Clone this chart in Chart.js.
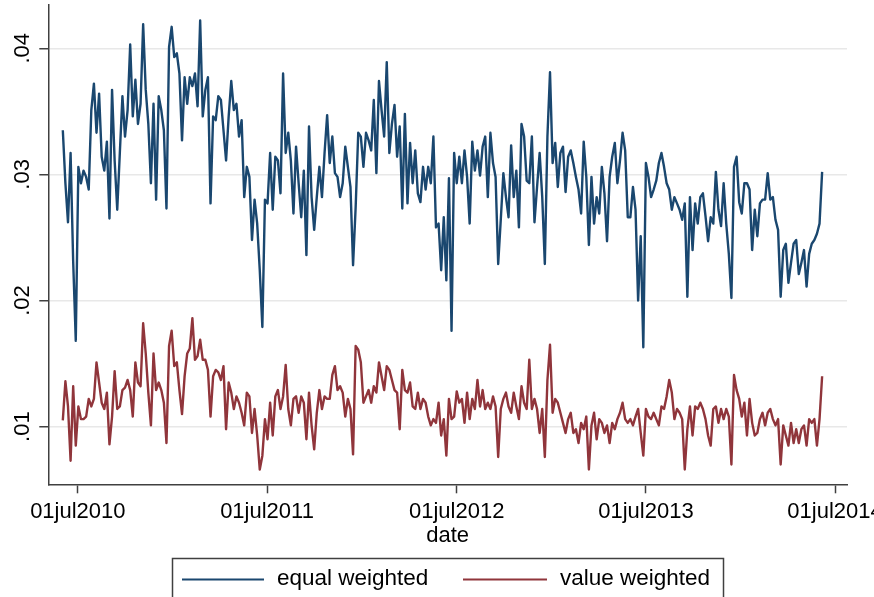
<!DOCTYPE html>
<html>
<head>
<meta charset="utf-8">
<script src="https://cdn.jsdelivr.net/npm/chart.js@4.4.1/dist/chart.umd.min.js"></script>
<style>
  html, body { margin: 0; padding: 0; background: #fff; }
</style>
</head>
<body>
<canvas id="myChart" width="874" height="597"></canvas>
<script>
// one reading every 5 calendar days, starting on startDate
var startDate = '2010-06-02';
var stepDays = 5;

var equalWeighted = [
  .0335,.0293,.0262,.0317,.0231,.0168,.0306,.0293,.0303,.0298,
  .0288,.0351,.0372,.0333,.0364,.0314,.0303,.0326,.0265,.0367,
  .0311,.0272,.0317,.0362,.0330,.0351,.0403,.0346,.0375,.0340,
  .0356,.0419,.0367,.0340,.0293,.0356,.0280,.0362,.0351,.0335,
  .0273,.0401,.0417,.0393,.0396,.0380,.0327,.0377,.0356,.0377,
  .0370,.0380,.0354,.0422,.0346,.0367,.0377,.0277,.0346,
  .0343,.0362,.0359,.0335,.0311,.0346,.0374,.0351,.0356,.0330,
  .0343,.0282,.0306,.0298,.0248,.0280,.0261,.0224,.0179,.0280,
  .0277,.0317,.0272,.0314,.0311,.0285,.0380,.0317,.0333,.0311,
  .0269,.0322,.0293,.0266,.0303,.0236,.0338,.0282,.0256,.0282,
  .0306,.0282,.0317,.0347,.0309,.0330,.0301,.0298,.0282,.0293,
  .0322,.0306,.0290,.0228,.0274,.0333,.0330,.0306,.0333,.0327,
  .0319,.0359,.0301,.0374,.0351,.0330,.0389,.0317,.0340,.0355,
  .0314,.0338,.0273,.0348,.0277,.0325,.0293,.0319,.0285,.0278,
  .0306,.0288,.0306,.0293,.0330,.0258,.0261,.0224,.0266,.0216,
  .0297,.0176,.0317,.0293,.0314,.0293,.0319,.0298,.0261,.0326,
  .0303,.0319,.0299,.0322,.0330,.0282,.0333,.0309,.0298,.0229,
  .0264,.0301,.0282,.0266,.0323,.0282,.0303,.0258,.0340,.0330,
  .0295,.0293,.0330,.0262,.0290,.0317,.0282,.0229,.0330,.0381,
  .0309,.0325,.0290,.0317,.0322,.0286,.0314,.0319,.0309,.0298,
  .0288,.0269,.0326,.0298,.0244,.0298,.0261,.0282,.0269,.0306,
  .0285,.0247,.0298,.0314,.0325,.0293,.0311,.0333,.0319,.0266,
  .0266,.0290,.0272,.0200,.0251,.0163,.0309,.0298,.0282,.0288,
  .0295,.0309,.0317,.0306,.0293,.0288,.0272,.0282,.0277,
  .0272,.0264,.0277,.0203,.0282,.0240,.0277,.0261,.0282,.0285,
  .0267,.0247,.0266,.0261,.0302,.0272,.0259,.0293,.0261,.0237,
  .0202,.0306,.0314,.0278,.0269,.0293,.0293,.0288,.0240,.0272,
  .0251,.0277,.0280,.0280,.0301,.0280,.0282,.0264,.0256,.0203,
  .0240,.0245,.0214,.0230,.0245,.0248,.0221,.0230,.0240,.0211,
  .0237,.0245,.0248,.0253,.0261,.0302
];

var valueWeighted = [
  .0105,.0136,.0116,.0073,.0132,.0085,.0116,.0106,.0106,.0108,
  .0122,.0116,.0122,.0151,.0135,.0119,.0114,.0127,.0086,.0108,
  .0144,.0114,.0116,.0129,.0131,.0137,.0129,.0108,.0151,.0135,
  .0132,.0182,.0158,.0127,.0101,.0158,.0129,.0135,.0129,.0119,
  .0087,.0164,.0176,.0148,.0151,.0129,.0110,.0140,.0158,.0162,
  .0186,.0153,.0156,.0169,.0153,.0153,.0145,.0108,.0140,.0145,
  .0143,.0137,.0148,.0098,.0135,.0127,.0114,.0124,.0119,.0111,
  .0101,.0127,.0124,.0095,
  .0114,.0093,.0066,.0077,.0106,.0090,.0119,.0093,.0124,.0129,
  .0114,.0124,.0149,.0114,.0101,.0122,.0124,.0111,.0124,.0119,
  .0090,.0127,.0101,.0082,.0111,.0129,.0114,.0124,.0122,.0122,
  .0141,.0148,.0129,.0132,.0127,.0108,.0122,.0114,.0078,.0164,
  .0161,.0151,.0119,.0124,.0129,.0119,.0132,.0127,.0151,.0140,
  .0129,.0148,.0145,.0137,.0129,.0127,.0098,.0145,.0129,.0127,
  .0135,.0116,.0114,.0127,.0114,.0122,.0119,.0108,.0101,.0106,
  .0103,.0119,.0093,.0106,.0077,.0122,
  .0106,.0108,.0128,.0119,.0122,.0103,.0127,.0106,.0122,.0114,
  .0137,.0116,.0129,.0114,.0119,.0114,.0124,.0116,.0076,.0114,
  .0122,.0127,.0116,.0111,.0127,.0116,.0106,.0132,.0119,.0114,
  .0153,.0114,.0122,.0114,.0095,.0114,.0076,.0137,.0165,.0111,
  .0122,.0119,.0111,.0103,.0095,.0106,.0111,.0095,.0098,.0087,
  .0103,.0098,.0108,.0066,.0101,.0111,.0090,.0106,.0103,.0095,
  .0101,.0087,.0103,.0098,.0106,.0111,.0119,.0106,.0103,.0106,
  .0101,.0108,.0114,.0095,.0077,
  .0114,.0108,.0106,.0111,.0106,.0101,.0116,.0114,.0124,.0137,
  .0127,.0106,.0114,.0111,.0106,.0066,.0098,.0116,.0093,.0116,
  .0114,.0119,.0114,.0106,.0093,.0085,.0114,.0116,.0103,.0114,
  .0106,.0114,.0108,.0070,.0141,.0129,.0122,.0108,.0119,.0093,
  .0122,.0103,.0093,.0095,.0106,.0111,.0101,.0111,.0114,.0106,
  .0101,.0106,.0070,.0101,.0093,.0085,.0103,.0087,.0098,.0087,
  .0098,.0101,.0085,.0106,.0103,.0106,.0085,.0106,.0140
];

var seriesNames = ['equal weighted', 'value weighted'];
var seriesColors = ['#1a476f', '#90353b'];

var xTickDates = ['2010-07-01', '2011-07-01', '2012-07-01', '2013-07-01', '2014-07-01'];
var xTickLabels = ['01jul2010', '01jul2011', '01jul2012', '01jul2013', '01jul2014'];
var xFrom = '2010-05-05';
var xTo = '2014-07-24';

var yTicks = [0.01, 0.02, 0.03, 0.04];
var yTickLabels = ['.01', '.02', '.03', '.04'];

function dayNum(s) {
  var p = s.split('-');
  return Date.UTC(+p[0], +p[1] - 1, +p[2]) / 864e5;
}

var day0 = dayNum(startDate);
function toPoints(vals) {
  return vals.map(function (v, i) { return { x: day0 + i * stepDays, y: v }; });
}

var font = { family: 'Liberation Sans, Arial, sans-serif', size: 22 };
var axisColor = '#404040';

// stata style legend: framed, two line keys side by side
var legendBox = {
  id: 'legendBox',
  afterDraw: function (chart) {
    var ctx = chart.ctx;
    ctx.save();
    ctx.strokeStyle = axisColor;
    ctx.lineWidth = 1.5;
    ctx.strokeRect(172.5, 558.5, 551, 60);
    var keys = [[182, 264, 277], [463, 547, 560]];
    chart.data.datasets.forEach(function (ds, i) {
      var k = keys[i];
      ctx.strokeStyle = ds.borderColor;
      ctx.lineWidth = 2;
      ctx.beginPath();
      ctx.moveTo(k[0], 579.5);
      ctx.lineTo(k[1], 579.5);
      ctx.stroke();
      ctx.fillStyle = '#000';
      ctx.font = '22.5px ' + font.family;
      ctx.textBaseline = 'middle';
      ctx.textAlign = 'left';
      ctx.fillText(ds.label, k[2], 579);
    });
    ctx.restore();
  }
};

const ctx = document.getElementById('myChart');

new Chart(ctx, {
  type: 'line',
  data: {
    datasets: [{
      label: seriesNames[0],
      data: toPoints(equalWeighted),
      borderColor: seriesColors[0],
      backgroundColor: seriesColors[0],
      borderWidth: 2.4,
      borderJoinStyle: 'round',
      pointRadius: 0,
      tension: 0
    }, {
      label: seriesNames[1],
      data: toPoints(valueWeighted),
      borderColor: seriesColors[1],
      backgroundColor: seriesColors[1],
      borderWidth: 2.4,
      borderJoinStyle: 'round',
      pointRadius: 0,
      tension: 0
    }]
  },
  options: {
    responsive: false,
    animation: false,
    layout: { padding: { top: 5, left: 0, right: 27, bottom: 49.7 } },
    plugins: {
      legend: { display: false },
      tooltip: { enabled: false }
    },
    scales: {
      x: {
        type: 'linear',
        min: dayNum(xFrom),
        max: dayNum(xTo),
        afterBuildTicks: function (s) {
          s.ticks = xTickDates.map(function (d) { return { value: dayNum(d) }; });
        },
        afterFit: function (s) {
          s.height = 63;
          s.paddingLeft = 0;
          s.paddingRight = 0;
        },
        ticks: {
          callback: function (v, i) { return xTickLabels[i]; },
          autoSkip: false,
          minRotation: 0,
          maxRotation: 0,
          padding: 5,
          color: '#000',
          font: font
        },
        grid: {
          drawOnChartArea: false,
          tickLength: 9,
          tickColor: axisColor,
          tickWidth: 1.5
        },
        border: { color: axisColor, width: 1.5 },
        title: { display: true, text: 'date', padding: { top: 0, bottom: -2 }, color: '#000', font: font }
      },
      y: {
        type: 'linear',
        min: 0.00543,
        max: 0.04343,
        afterBuildTicks: function (s) {
          s.ticks = yTicks.map(function (v) { return { value: v }; });
        },
        afterFit: function (s) {
          s.width = 48.3;
          s.paddingTop = 0;
          s.paddingBottom = 0;
        },
        ticks: {
          callback: function (v, i) { return yTickLabels[i]; },
          minRotation: 90,
          maxRotation: 90,
          crossAlign: 'center',
          padding: 1,
          color: '#000',
          font: font
        },
        grid: {
          color: '#e8e8e8',
          lineWidth: 1.5,
          tickLength: 9,
          tickColor: axisColor,
          tickWidth: 1.5
        },
        border: { color: axisColor, width: 1.5 }
      }
    }
  },
  plugins: [legendBox]
});
</script>
</body>
</html>
